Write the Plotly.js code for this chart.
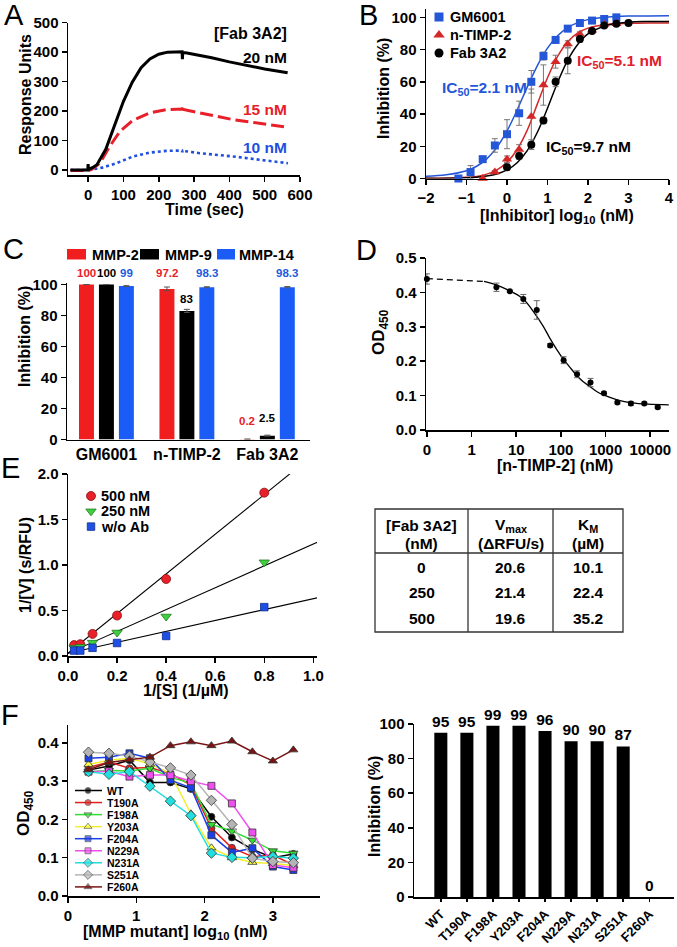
<!DOCTYPE html>
<html><head><meta charset="utf-8">
<script src="https://cdn.plot.ly/plotly-3.0.1.min.js"></script>
<style>html,body{margin:0;padding:0;background:#fff;}#chart{width:677px;height:947px;}</style>
</head><body><div id="chart"></div>
<script>
// ================= DATA =================
// Panel A: SPR sensorgrams (time in s, response units)
const tA20 = [-50, -1, 0, 1, 12, 25, 50, 75, 100, 125, 150, 175, 200, 225, 250, 266, 267, 268, 280, 300, 350, 400, 450, 500, 565];
const yA20 = [0, 0, 20, 2, 8, 18, 70, 152, 233, 298, 347, 377, 393, 400, 402, 401, 376, 399, 397, 393, 381, 367, 354, 343, 330];
const tA15 = [-50, 0, 10, 33, 61, 90, 127, 175, 222, 266, 267, 268, 316, 410, 566];
const yA15 = [-2, -2, 2, 23, 80, 131, 169, 194, 205, 207, 195, 206, 194, 171, 145];
const tA10 = [-50, 0, 40, 80, 127, 175, 222, 266, 267, 268, 316, 410, 566];
const yA10 = [0, 0, 8, 23, 46, 59, 65, 66, 60, 65, 57, 46, 23];
const aLabels = ['20 nM', '15 nM', '10 nM'];

// Panel B: dose-response (log10 nM, % inhibition)
const bNames = ['GM6001', 'n-TIMP-2', 'Fab 3A2'];
const bXgm = [-1.2, -0.9, -0.6, -0.3, 0, 0.3, 0.6, 0.9, 1.2, 1.5, 1.8, 2.1, 2.4, 2.7];
const bYgm = [0, 4, 12, 20.5, 27.5, 40.5, 60, 76, 86, 93, 96.5, 98, 99, 100];
const bEgm = [0, 4, 1, 4.2, 9, 7.5, 7, 2.5, 2, 1.2, 1, 0.8, 0.8, 0.5];
const bXtimp = [-0.6, -0.3, 0, 0.3, 0.6, 0.9, 1.2, 1.5, 1.8, 2.1, 2.4, 2.7];
const bYtimp = [0, 4, 12, 18, 38.5, 58, 72.5, 83.5, 89.5, 92, 95.5, 96];
const bEtimp = [0, 1, 2, 3, 17, 12.5, 4, 2, 1.5, 1, 1, 1];
const bXfab = [0, 0.3, 0.6, 0.9, 1.2, 1.5, 1.8, 2.1, 2.4, 2.7, 3.0];
const bYfab = [7, 14, 21, 36, 60, 73, 86.5, 91.5, 95, 96, 96.5];
const bEfab = [2, 2, 3, 2, 3, 8, 2, 1.5, 1, 1, 1];
const bFitX = [-2, -1.5, -1, -0.75, -0.5, -0.25, 0, 0.25, 0.5, 0.75, 1, 1.25, 1.5, 1.75, 2, 2.5, 3, 3.5, 4];
const bFitGm = [1.4, 2.3, 4.8, 7.6, 12.2, 19.3, 29.5, 42.5, 56.7, 70.1, 80.9, 88.6, 93.7, 96.7, 98.6, 100.2, 100.8, 100.9, 101];
const bFitTimp = [0.1, 0.2, 0.7, 1.3, 2.7, 5.4, 10, 18, 30, 46.3, 62.5, 75.8, 84.9, 90.3, 93.3, 95.7, 96.3, 96.5, 96.5];
const bFitFab = [0.1, 0.1, 0.4, 0.8, 1.5, 2.8, 5.3, 9.8, 17.3, 28.7, 43.6, 59.6, 73.4, 83.3, 89.7, 95.3, 97, 97.4, 97.5];
const bIC50 = ['IC<sub>50</sub>=2.1 nM', 'IC<sub>50</sub>=5.1 nM', 'IC<sub>50</sub>=9.7 nM'];

// Panel C: % inhibition by inhibitor and MMP
const cNames = ['GM6001', 'n-TIMP-2', 'Fab 3A2'];
const cSeries = ['MMP-2', 'MMP-9', 'MMP-14'];
const cMMP2 = [100, 97.2, 0.2];
const cMMP9 = [100, 83, 2.5];
const cMMP14 = [99, 98.3, 98.3];
const cErr2 = [0, 1.2, 0];
const cErr9 = [0, 1, 0.3];
const cErr14 = [0.3, 0.3, 0.4];

// Panel D: n-TIMP-2 competition (nM, OD450)
const dConc = [0, 3.6, 7.2, 14.4, 28.8, 57.6, 115, 230, 460, 920, 1840, 3690, 7370, 14700];
const dOD = [0.439, 0.415, 0.403, 0.381, 0.349, 0.246, 0.203, 0.162, 0.138, 0.107, 0.080, 0.077, 0.077, 0.066];
const dErr = [0.015, 0.012, 0.003, 0.013, 0.027, 0.005, 0.01, 0.01, 0.012, 0.004, 0.004, 0.006, 0.004, 0.004];
const dFitConc = [1.9, 3.2, 6.3, 13.8, 27.5, 40, 56, 79, 112, 158, 224, 316, 450, 630, 900, 1900, 3900, 8900, 26000];
const dFitOD = [0.432, 0.424, 0.408, 0.383, 0.334, 0.302, 0.268, 0.236, 0.207, 0.183, 0.159, 0.140, 0.126, 0.112, 0.102, 0.087, 0.079, 0.075, 0.073];
const dDashConc = [0, 1.9];
const dDashOD = [0.44, 0.432];

// Panel E: Lineweaver-Burk
const eNames = ['500 nM', '250 nM', 'w/o Ab'];
const eInvS = [0.025, 0.05, 0.1, 0.2, 0.4, 0.8];
const eInvV500 = [0.12, 0.13, 0.243, 0.445, 0.846, 1.795];
const eInvV250 = [0.09, 0.10, 0.147, 0.258, 0.434, 1.03];
const eInvV0 = [0.06, 0.06, 0.09, 0.143, 0.22, 0.537];
const eFitX = [-0.07, 1.05];
const eFit500 = [-0.123, 2.319];
const eFit250 = [-0.054, 1.29];
const eFit0 = [-0.012, 0.66];

// Table
const tblHead1 = ['[Fab 3A2]', 'V<sub>max</sub>', 'K<sub>M</sub>'];
const tblHead2 = ['(nM)', '(\u0394RFU/s)', '(\u00b5M)'];
const tblFab = ['0', '250', '500'];
const tblVmax = ['20.6', '21.4', '19.6'];
const tblKm = ['10.1', '22.4', '35.2'];

// Panel F left: OD450 vs log10 [MMP mutant]
const fNames = ['WT', 'T190A', 'F198A', 'Y203A', 'F204A', 'N229A', 'N231A', 'S251A', 'F260A'];
const fX = [0.3, 0.6, 0.9, 1.2, 1.5, 1.8, 2.1, 2.4, 2.7, 3.0, 3.3];
const fWT    = [0.329, 0.340, 0.355, 0.297, 0.297, 0.280, 0.207, 0.153, 0.122, 0.100, 0.110];
const fT190A = [0.336, 0.350, 0.334, 0.336, 0.320, 0.290, 0.177, 0.126, 0.103, 0.107, 0.081];
const fF198A = [0.325, 0.328, 0.327, 0.334, 0.310, 0.295, 0.187, 0.170, 0.146, 0.118, 0.112];
const fY203A = [0.344, 0.355, 0.360, 0.345, 0.320, 0.215, 0.126, 0.100, 0.088, 0.085, 0.080];
const fF204A = [0.360, 0.363, 0.373, 0.360, 0.303, 0.283, 0.159, 0.114, 0.125, 0.077, 0.068];
const fN229A = [0.325, 0.326, 0.312, 0.316, 0.316, 0.300, 0.288, 0.242, 0.166, 0.081, 0.074];
const fN231A = [0.325, 0.318, 0.325, 0.287, 0.248, 0.210, 0.112, 0.101, 0.100, 0.103, 0.099];
const fS251A = [0.376, 0.373, 0.366, 0.350, 0.335, 0.316, 0.250, 0.187, 0.099, 0.090, 0.087];
const fF260A = [0.330, 0.349, 0.356, 0.363, 0.393, 0.403, 0.393, 0.405, 0.377, 0.353, 0.382];

// Panel F right: % inhibition per mutant
const fInhib = [95, 95, 99, 99, 96, 90, 90, 87, 0];

// ================= DRAWING =================
const FONT = 'Liberation Sans, Arial, Helvetica, sans-serif';
const W = 677, H = 947;
const X = p => p / W;
const Y = p => 1 - p / H;
const RED = '#e8202a', BLACK = '#000000';

function ax(extra) {
  return Object.assign({
    showline: true, linecolor: '#000', linewidth: 1.5, ticks: 'outside', ticklen: 5,
    tickwidth: 1.5, tickcolor: '#000', showgrid: false, zeroline: false, fixedrange: true,
    tickfont: {family: FONT, size: 15, color: '#000', weight: 700}
  }, extra);
}
const annotations = [];
function ann(text, x, y, o) {
  o = o || {};
  annotations.push(Object.assign({
    text: text, x: X(x), y: Y(y), xref: 'paper', yref: 'paper', showarrow: false,
    xanchor: 'center', yanchor: 'middle',
    font: {family: FONT, size: o.size || 16, color: o.color || '#000', weight: o.weight || 700}
  }, o.extra || {}));
}
const shapes = [];
const traces = [];

// ---- Panel A ----
traces.push({x: tA10, y: yA10, xaxis: 'x', yaxis: 'y', mode: 'lines', line: {color: '#2150e0', width: 2.6, dash: 'dot'}});
traces.push({x: tA15, y: yA15, xaxis: 'x', yaxis: 'y', mode: 'lines', line: {color: RED, width: 3, dash: '13px,5px'}});
traces.push({x: tA20, y: yA20, xaxis: 'x', yaxis: 'y', mode: 'lines', line: {color: BLACK, width: 3}});
ann('[Fab 3A2]', 289, 33, {size: 16, extra: {xanchor: 'right'}});
ann(aLabels[0], 289, 57, {size: 15.5, color: '#000', extra: {xanchor: 'right'}});
ann(aLabels[1], 289, 110, {size: 15.5, color: RED, extra: {xanchor: 'right'}});
ann(aLabels[2], 289, 148, {size: 15.5, color: '#2150e0', extra: {xanchor: 'right'}});
ann('Response Units', 25, 95, {extra: {textangle: -90}});
ann('Time (sec)', 205, 210);

// ---- Panel B ----
const bCol = ['#2456d8', '#d42828', '#000000'];
const bSym = ['square', 'triangle-up', 'circle'];
const bSize = [8, 9, 8];
[bFitGm, bFitTimp, bFitFab].forEach((fy, i) => traces.push({
  x: bFitX, y: fy, xaxis: 'x2', yaxis: 'y2', mode: 'lines', line: {color: bCol[i], width: 1.5, shape: 'spline'}
}));
[[bXgm, bYgm, bEgm], [bXtimp, bYtimp, bEtimp], [bXfab, bYfab, bEfab]].forEach((s, i) => traces.push({
  x: s[0], y: s[1], xaxis: 'x2', yaxis: 'y2', mode: 'markers', cliponaxis: false,
  marker: {symbol: bSym[i], color: bCol[i], size: bSize[i]},
  error_y: {type: 'data', array: s[2], color: '#777', thickness: 1, width: 3}
}));
bNames.forEach((n, i) => {
  traces.push({x: [439], y: [17 + i * 18], xaxis: 'x8', yaxis: 'y8', mode: 'markers',
    marker: {symbol: bSym[i], color: bCol[i], size: bSize[i] + 1}});
  ann(n, 448, 17 + i * 18, {size: 14.5, extra: {xanchor: 'left'}});
});
ann(bIC50[0], 440, 88, {size: 15.5, color: bCol[0], extra: {xanchor: 'left'}});
ann(bIC50[1], 575, 62, {size: 15.5, color: '#e0202a', extra: {xanchor: 'left'}});
ann(bIC50[2], 544, 147, {size: 15.5, color: '#000', extra: {xanchor: 'left'}});
ann('Inhibition (%)', 383, 89, {extra: {textangle: -90}});
ann('[Inhibitor] log<sub>10</sub> (nM)', 557, 216);

// ---- Panel C ----
const cDomX = [67, 310], cRangeX = [-0.49, 2.53];
const cDomY = [283, 439.5], cRangeY = [0, 101];
const cToPxX = v => cDomX[0] + (v - cRangeX[0]) * (cDomX[1] - cDomX[0]) / (cRangeX[1] - cRangeX[0]);
const cToPxY = v => cDomY[1] - (v - cRangeY[0]) * (cDomY[1] - cDomY[0]) / (cRangeY[1] - cRangeY[0]);
const cCol = ['#f01e1e', '#000000', '#1a5cf5'];
const cTxtCol = ['#e8202a', '#000000', '#1d5ae0'];
const cVals = [cMMP2, cMMP9, cMMP14];
const cErrs = [cErr2, cErr9, cErr14];
const cOff = [-0.248, 0, 0.248];
const cW = 0.186;
cVals.forEach((v, i) => traces.push({
  type: 'bar', x: [0, 1, 2], y: v, xaxis: 'x3', yaxis: 'y3', width: cW, offset: cOff[i] - cW / 2,
  marker: {color: cCol[i], line: {width: 0}},
  error_y: {type: 'data', array: cErrs[i], color: '#555', thickness: 1, width: 3}
}));
cVals.forEach((v, i) => v.forEach((val, j) => {
  const yl = val >= 95 ? 107.4 : (val < 5 ? val + 11.5 : val + 7.6);
  ann(String(val), cToPxX(j + cOff[i]), cToPxY(yl), {size: 11.5, color: cTxtCol[i]});
}));
const cSw = [[67, 86, 90], [140, 159, 163], [217, 235, 237]];
cSeries.forEach((n, i) => {
  shapes.push({type: 'rect', xref: 'paper', yref: 'paper', x0: X(cSw[i][0]), x1: X(cSw[i][1]),
    y0: Y(259.5), y1: Y(249), fillcolor: cCol[i], line: {width: 0}});
  ann(n, cSw[i][2], 254.5, {size: 14.5, extra: {xanchor: 'left'}});
});
ann('Inhibition (%)', 24, 337, {extra: {textangle: -90}});

// ---- Panel D ----
const dPos = c => (c === 0 ? 0.1 : c); // "0" drawn one decade left of 1
traces.push({x: dDashConc.map(dPos), y: dDashOD, xaxis: 'x4', yaxis: 'y4', mode: 'lines', line: {color: '#000', width: 1.3, dash: '6px,4px'}});
traces.push({x: dFitConc, y: dFitOD, xaxis: 'x4', yaxis: 'y4', mode: 'lines', line: {color: '#000', width: 1.3, shape: 'spline'}});
traces.push({x: dConc.map(dPos), y: dOD, xaxis: 'x4', yaxis: 'y4', mode: 'markers', cliponaxis: false,
  marker: {symbol: 'circle', color: '#000', size: 6},
  error_y: {type: 'data', array: dErr, color: '#666', thickness: 1, width: 3}});
ann('OD<sub>450</sub>', 380, 332, {size: 17, extra: {textangle: -90}});
ann('[n-TIMP-2] (nM)', 555, 465);

// ---- Panel E ----
[eFit500, eFit250, eFit0].forEach(fy => traces.push({x: eFitX, y: fy, xaxis: 'x5', yaxis: 'y5', mode: 'lines', line: {color: '#000', width: 1.1}}));
const eSym = ['circle', 'triangle-down', 'square'];
const eCol = ['#e8202a', '#3fd03f', '#1f50e6'];
const eLine = ['#8a1010', '#1f7a1f', '#102f90'];
const eSize = [9, 9, 7.5];
[eInvV500, eInvV250, eInvV0].forEach((v, i) => traces.push({
  x: eInvS, y: v, xaxis: 'x5', yaxis: 'y5', mode: 'markers', cliponaxis: false,
  marker: {symbol: eSym[i], color: eCol[i], size: eSize[i], line: {color: eLine[i], width: 0.8}}
}));
eNames.forEach((n, i) => {
  traces.push({x: [91], y: [496 + i * 15.3], xaxis: 'x8', yaxis: 'y8', mode: 'markers',
    marker: {symbol: eSym[i], color: eCol[i], size: eSize[i], line: {color: eLine[i], width: 0.8}}});
  ann(n, 99, 496 + i * 15.3, {size: 14.5, extra: {xanchor: 'left'}});
});
ann('1/[V] (s/RFU)', 25, 565, {extra: {textangle: -90}});
ann('1/[S] (1/\u00b5M)', 186, 690);

// ---- Table ----
const tL = 375, tR = 623, tT = 509, tB = 632, c1 = 468, c2 = 553, hB = 553;
const tLine = {color: '#333', width: 1.3};
shapes.push({type: 'rect', xref: 'paper', yref: 'paper', x0: X(tL), x1: X(tR), y0: Y(tB), y1: Y(tT), line: tLine});
[c1, c2].forEach(cx => shapes.push({type: 'line', xref: 'paper', yref: 'paper', x0: X(cx), x1: X(cx), y0: Y(tB), y1: Y(tT), line: tLine}));
shapes.push({type: 'line', xref: 'paper', yref: 'paper', x0: X(tL), x1: X(tR), y0: Y(hB), y1: Y(hB), line: tLine});
const colC = [(tL + c1) / 2, (c1 + c2) / 2, (c2 + tR) / 2];
tblHead1.forEach((t, i) => ann(t, colC[i], 525, {size: 15.5}));
tblHead2.forEach((t, i) => ann(t, colC[i], 543, {size: 15.5}));
[tblFab, tblVmax, tblKm].forEach((col, i) => col.forEach((t, j) => ann(t, colC[i], 567 + j * 25.5, {size: 15.5})));

// ---- Panel F left ----
const fSeries = [fWT, fT190A, fF198A, fY203A, fF204A, fN229A, fN231A, fS251A, fF260A];
const fLineCol = ['#000000', '#e02020', '#33dd33', '#f2ee30', '#1a40e8', '#ee4fee', '#22dede', '#b4b4b4', '#7a1414'];
const fFill = ['#000000', '#e02020', '#33dd33', '#ffff40', '#1a40e8', '#ee4fee', '#22dede', '#b4b4b4', '#7a1414'];
const fSym = ['circle', 'circle', 'triangle-down', 'triangle-up', 'square', 'square', 'diamond', 'diamond', 'triangle-up'];
const fSize = [7, 7, 8, 8, 7, 7, 8, 8, 8];
fSeries.forEach((v, i) => traces.push({
  x: fX, y: v, xaxis: 'x6', yaxis: 'y6', mode: 'lines+markers', cliponaxis: false,
  line: {color: fLineCol[i], width: 1.5},
  marker: {symbol: fSym[i], color: fFill[i], size: fSize[i], line: {color: '#333', width: 0.8}}
}));
fNames.forEach((n, i) => {
  const yy = 790.5 + i * 12.05;
  traces.push({x: [75, 88, 102], y: [yy, yy, yy], xaxis: 'x8', yaxis: 'y8', mode: 'lines+markers',
    line: {color: fLineCol[i], width: 1.5},
    marker: {symbol: fSym[i], color: fFill[i], size: [0, fSize[i] - 1, 0], line: {color: '#333', width: 0.8}}});
  ann(n, 105, yy, {size: 10.5, extra: {xanchor: 'left'}});
});
ann('OD<sub>450</sub>', 25, 813, {size: 17, extra: {textangle: -90}});
ann('[MMP mutant] log<sub>10</sub> (nM)', 175, 932);

// ---- Panel F right ----
traces.push({type: 'bar', x: fNames.map((_, i) => i), y: fInhib, xaxis: 'x7', yaxis: 'y7', width: 0.5,
  marker: {color: '#000'}, text: fInhib.map(String), textposition: 'outside', constraintext: 'none', cliponaxis: false,
  textfont: {family: FONT, size: 15.5, color: '#000', weight: 700}});
ann('Inhibition (%)', 374, 807, {extra: {textangle: -90}});

// ---- Panel letters ----
[['A', 13.5, 15], ['B', 368, 15], ['C', 13.5, 249], ['D', 367, 250], ['E', 11, 468], ['F', 10, 715]].forEach(p =>
  ann(p[0], p[1], p[2], {size: 29, weight: 400}));

const layout = {
  width: W, height: H, margin: {l: 0, r: 0, t: 0, b: 0}, paper_bgcolor: '#fff', plot_bgcolor: 'rgba(0,0,0,0)',
  showlegend: false, barmode: 'overlay', font: {family: FONT, color: '#000'},
  xaxis: ax({domain: [X(68), X(300)], range: [-57, 600], tickvals: [0, 100, 200, 300, 400, 500, 600], anchor: 'y'}),
  yaxis: ax({domain: [Y(175), Y(22.7)], range: [-17, 500], tickvals: [0, 100, 200, 300, 400, 500], anchor: 'x'}),
  xaxis2: ax({domain: [X(426), X(669)], range: [-2, 4], tickvals: [-2, -1, 0, 1, 2, 3, 4], anchor: 'y2'}),
  yaxis2: ax({domain: [Y(178.5), Y(9.3)], range: [0, 105], tickvals: [0, 20, 40, 60, 80, 100], anchor: 'x2'}),
  xaxis3: ax({domain: [X(cDomX[0]), X(cDomX[1])], range: cRangeX, tickvals: [0, 1, 2], ticktext: cNames, ticks: '', anchor: 'y3',
    tickfont: {family: FONT, size: 16, color: '#000', weight: 700}}),
  yaxis3: ax({domain: [Y(cDomY[1]), Y(cDomY[0])], range: cRangeY, tickvals: [0, 20, 40, 60, 80, 100], anchor: 'x3'}),
  xaxis4: ax({type: 'log', domain: [X(426), X(669)], range: [-1.02, 4.42], tickvals: [0.1, 1, 10, 100, 1000, 10000],
    ticktext: ['0', '1', '10', '100', '1000', '10000'], anchor: 'y4'}),
  yaxis4: ax({domain: [Y(430), Y(258)], range: [0, 0.5], tickvals: [0, 0.1, 0.2, 0.3, 0.4, 0.5], tickformat: '.1f', anchor: 'x4'}),
  xaxis5: ax({domain: [X(68), X(317)], range: [0, 1.015], tickvals: [0, 0.2, 0.4, 0.6, 0.8, 1.0], tickformat: '.1f', anchor: 'y5'}),
  yaxis5: ax({domain: [Y(656), Y(474)], range: [0, 2.0], tickvals: [0, 0.5, 1, 1.5, 2], tickformat: '.1f', anchor: 'x5'}),
  xaxis6: ax({domain: [X(68), X(320)], range: [0, 3.69], tickvals: [0, 1, 2, 3], anchor: 'y6'}),
  yaxis6: ax({domain: [Y(896), Y(725)], range: [0, 0.447], tickvals: [0, 0.1, 0.2, 0.3, 0.4], tickformat: '.1f', anchor: 'x6'}),
  xaxis7: ax({domain: [X(414), X(674)], range: [-1.03, 8.95], tickvals: fNames.map((_, i) => i), ticktext: fNames,
    tickangle: -45, ticklen: 3, anchor: 'y7', tickfont: {family: FONT, size: 13, color: '#000', weight: 700}}),
  yaxis7: ax({domain: [Y(897), Y(724)], range: [0, 100], tickvals: [0, 20, 40, 60, 80, 100], anchor: 'x7'}),
  xaxis8: {domain: [0, 1], range: [0, W], visible: false, fixedrange: true, anchor: 'y8'},
  yaxis8: {domain: [0, 1], range: [H, 0], visible: false, fixedrange: true, anchor: 'x8'},
  annotations: annotations, shapes: shapes
};
Plotly.newPlot('chart', traces, layout, {displayModeBar: false, staticPlot: true});
</script>
</body></html>
